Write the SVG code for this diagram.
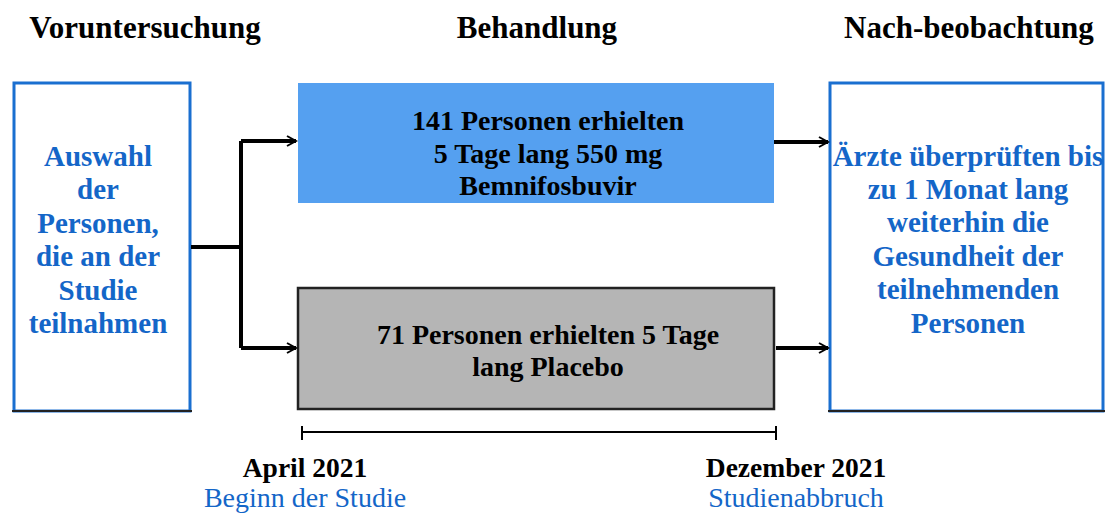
<svg xmlns="http://www.w3.org/2000/svg" width="1110" height="514" viewBox="0 0 1110 514">
<style>
text{font-family:"Liberation Serif","Times New Roman",serif;text-anchor:middle}
.h{font-size:31px;font-weight:bold;fill:#000}
.b{font-size:29px;font-weight:bold;fill:#1466c8}
.t{font-size:28px;font-weight:bold;fill:#000}
.d{font-size:27.5px;font-weight:bold;fill:#000}
.s{font-size:28px;fill:#1466c8}
.c{fill:none;stroke:#000;stroke-width:4}
</style>
<defs>
<marker id="a" markerWidth="12" markerHeight="12" refX="10" refY="6" orient="auto" markerUnits="userSpaceOnUse">
<path d="M1,1 L10,6 L1,11 M0,6 L10,6" fill="none" stroke="#000" stroke-width="2"/>
</marker>
</defs>
<rect width="1110" height="514" fill="#fff"/>
<text class="h" x="145" y="38">Voruntersuchung</text>
<text class="h" x="537" y="38">Behandlung</text>
<text class="h" x="969" y="38">Nach-beobachtung</text>
<g id="auswahl">
<rect x="14" y="83" width="176" height="328" fill="#fff" stroke="#1a6fd0" stroke-width="3"/>
<line x1="12" y1="411" x2="192" y2="411" stroke="#222" stroke-width="2"/>
<text class="b" x="98" y="166">Auswahl</text>
<text class="b" x="98" y="199">der</text>
<text class="b" x="98" y="233">Personen,</text>
<text class="b" x="98" y="266">die an der</text>
<text class="b" x="98" y="300">Studie</text>
<text class="b" x="98" y="333">teilnahmen</text>
</g>
<g id="bemnifosbuvir">
<rect x="298" y="83" width="476" height="120" fill="#55a0f0"/>
<text class="t" x="548" y="130">141 Personen erhielten</text>
<text class="t" x="548" y="163">5 Tage lang 550 mg</text>
<text class="t" x="548" y="195">Bemnifosbuvir</text>
</g>
<g id="placebo">
<rect x="298" y="288" width="476" height="121" fill="#b5b5b5" stroke="#222" stroke-width="2.5"/>
<text class="t" x="548" y="344">71 Personen erhielten 5 Tage</text>
<text class="t" x="548" y="376">lang Placebo</text>
</g>
<g id="nachbeobachtung">
<rect x="830" y="83" width="273" height="328" fill="#fff" stroke="#1a6fd0" stroke-width="3"/>
<line x1="828" y1="411" x2="1105" y2="411" stroke="#222" stroke-width="2"/>
<text class="b" x="968" y="166">Ärzte überprüften bis</text>
<text class="b" x="968" y="199">zu 1 Monat lang</text>
<text class="b" x="968" y="232">weiterhin die</text>
<text class="b" x="968" y="266">Gesundheit der</text>
<text class="b" x="968" y="299">teilnehmenden</text>
<text class="b" x="968" y="333">Personen</text>
</g>
<g id="connectors">
<path class="c" d="M191,247 H241 M241,141 V348"/>
<path class="c" d="M241,141 H296" marker-end="url(#a)"/>
<path class="c" d="M241,348 H296" marker-end="url(#a)"/>
<path class="c" d="M774,142 H828" marker-end="url(#a)"/>
<path class="c" d="M776,348 H828" marker-end="url(#a)"/>
<path d="M302,432 H776 M302,426 V440 M776,426 V440" fill="none" stroke="#000" stroke-width="2"/>
</g>
<g id="timeline">
<text class="d" x="305" y="477">April 2021</text>
<text class="s" x="305" y="507">Beginn der Studie</text>
<text class="d" x="796" y="477">Dezember 2021</text>
<text class="s" x="796" y="507">Studienabbruch</text>
</g>
</svg>
